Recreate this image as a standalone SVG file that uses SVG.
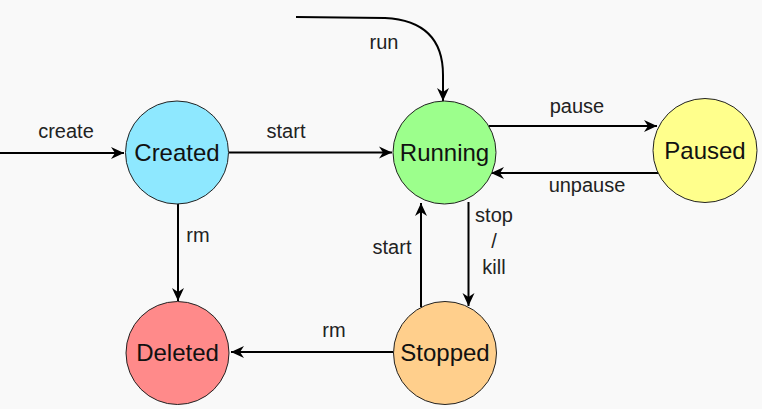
<svg xmlns="http://www.w3.org/2000/svg" width="762" height="409" viewBox="0 0 762 409">
<style>
.node circle{stroke:#222;stroke-width:1}
.node text{font-family:"Liberation Sans",Arial,sans-serif;font-size:24px;fill:#111;text-anchor:middle}
.lbl{font-family:"Liberation Sans",Arial,sans-serif;font-size:20px;fill:#222;text-anchor:middle}
.edge{fill:none;stroke:#000;stroke-width:2;marker-end:url(#ah)}
</style>
<defs>
<marker id="ah" markerUnits="userSpaceOnUse" orient="auto" markerWidth="16" markerHeight="14" viewBox="-14 -7 16 14" refX="0" refY="0">
<path d="M0,0 L-13,-6 L-9,0 L-13,6 Z" fill="#000"/>
</marker>
</defs>
<rect width="762" height="409" fill="#f9f9f9"/>
<g id="connectors">
<path class="edge" d="M0,153 L124,153"/>
<path class="edge" d="M229,152.5 L392,152.5"/>
<path class="edge" d="M296,17 L385,18 Q443,21 443,75 L443,101"/>
<path class="edge" d="M489,126 L657,126"/>
<path class="edge" d="M660,173 L491,173"/>
<path class="edge" d="M468.5,202 L468.5,306"/>
<path class="edge" d="M421,307 L421,203"/>
<path class="edge" d="M178,203 L178,301"/>
<path class="edge" d="M393,352 L231,352"/>
<text class="lbl" x="66" y="138">create</text>
<text class="lbl" x="286" y="138">start</text>
<text class="lbl" x="384" y="49">run</text>
<text class="lbl" x="577" y="113">pause</text>
<text class="lbl" x="587" y="192">unpause</text>
<text class="lbl" x="494" y="222">stop</text>
<text class="lbl" x="494" y="248">/</text>
<text class="lbl" x="494" y="274">kill</text>
<text class="lbl" x="392" y="254">start</text>
<text class="lbl" x="198" y="242">rm</text>
<text class="lbl" x="334" y="337">rm</text>
</g>
<g id="created" class="node"><circle cx="177" cy="152.5" r="51.5" fill="#8ee8ff"/><text x="177" y="161">Created</text></g>
<g id="running" class="node"><circle cx="444.5" cy="152.5" r="51.5" fill="#9cff8c"/><text x="444.5" y="161">Running</text></g>
<g id="paused" class="node"><circle cx="705" cy="150.5" r="52" fill="#ffff8c"/><text x="705" y="159">Paused</text></g>
<g id="deleted" class="node"><circle cx="177.5" cy="353" r="51.5" fill="#ff8a8a"/><text x="177.5" y="361">Deleted</text></g>
<g id="stopped" class="node"><circle cx="445" cy="353" r="51.5" fill="#ffcf8c"/><text x="445" y="361">Stopped</text></g>
</svg>
